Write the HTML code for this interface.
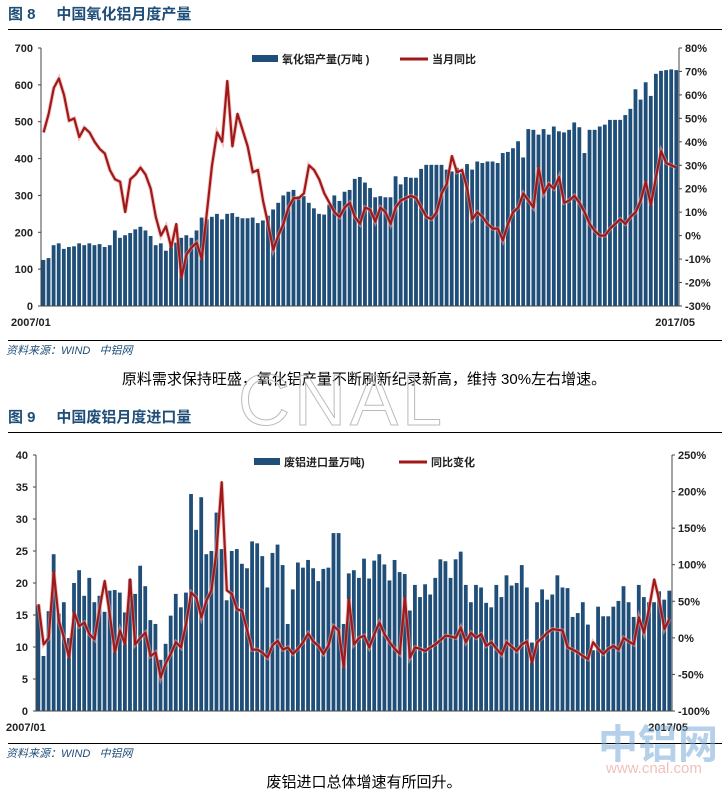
<!DOCTYPE html>
<html><head><meta charset="utf-8">
<style>
body{margin:0;background:#fff;width:728px;height:794px;overflow:hidden;position:relative;font-family:"Liberation Sans","Noto Sans CJK SC",sans-serif}
.t{position:absolute;left:8px;font-size:15px;font-weight:bold;color:#1f4e79}
.rule{position:absolute;left:8px;width:714px;height:1px;background:#000}
.src{position:absolute;left:6px;font-size:11px;font-style:italic;color:#1f4e79}
.cap{position:absolute;width:728px;text-align:center;font-size:15px;color:#000}
svg{position:absolute;left:0}
</style></head><body>
<div class="t" style="top:3px">图 8&nbsp;&nbsp;&nbsp;&nbsp;&nbsp;中国氧化铝月度产量</div>
<div class="rule" style="top:29px"></div>
<svg id="c1" width="728" height="340" style="top:0"></svg>
<div class="rule" style="top:340px"></div>
<div class="src" style="top:342px">资料来源：WIND&nbsp;&nbsp;&nbsp;中铝网</div>
<div class="cap" style="top:368px">原料需求保持旺盛，氧化铝产量不断刷新纪录新高，维持 30%左右增速。</div>
<div style="position:absolute;left:238px;top:360px;font-size:72px;color:transparent;-webkit-text-stroke:1px #bbb;letter-spacing:4px">CNAL</div>
<div class="t" style="top:406px">图 9&nbsp;&nbsp;&nbsp;&nbsp;&nbsp;中国废铝月度进口量</div>
<div class="rule" style="top:432px"></div>
<svg id="c2" width="728" height="310" style="top:432px"></svg>
<div class="rule" style="top:743px"></div>
<div class="src" style="top:745px">资料来源：WIND&nbsp;&nbsp;&nbsp;中铝网</div>
<div class="cap" style="top:771px">废铝进口总体增速有所回升。</div>
<div style="position:absolute;left:598px;top:712px;font-size:40px;font-weight:bold;color:rgba(120,170,215,0.55)">中铝网</div>
<div style="position:absolute;left:606px;top:760px;font-size:15px;color:rgba(230,150,140,0.6)">www.cnal.com</div>
<script>
const bars1=[125,130,165,170,155,160,162,170,165,170,165,168,
160,165,205,185,192,198,208,215,205,190,165,170,
150,165,172,185,192,185,205,240,235,242,250,235,
250,252,242,238,238,240,225,232,245,262,280,300,
310,315,298,298,280,265,250,248,275,300,285,310,
315,345,350,335,320,295,298,295,295,352,330,350,
348,348,372,383,383,383,383,370,365,375,360,385,
370,392,388,392,392,388,415,418,428,447,403,480,
478,465,480,465,487,474,471,478,498,485,415,478,
478,487,492,505,505,505,518,535,588,560,607,570,
630,638,640,642,640];
const line1=[44,52,63,67,60,49,50,42,46,44,40,37,
35,28,24,23,10,24,26,29,26,20,8,0,
4,-5,5,-18,-8,-5,-3,-10,10,30,44,40,
66,38,52,45,38,27,28,15,5,-6,0,5,
12,16,16,18,30,28,24,18,14,10,8,12,
14,8,5,12,11,6,12,10,5,12,15,16,
17,16,12,8,7,10,18,22,34,27,28,20,
7,10,8,5,3,3,-2,5,10,12,18,15,
12,29,18,22,20,25,14,15,17,14,10,5,
2,0,0,3,5,7,5,8,10,15,23,13,
25,36,31,30,29];
const ticksL1=[0,100,200,300,400,500,600,700];
const ticksR1=[-30,-20,-10,0,10,20,30,40,50,60,70,80];
const bars2=[16.5,8.6,15.6,24.5,15.2,17,11.4,20,22,18,20.8,17,
18,15.5,18.8,18.9,18.5,15.4,20.6,18.3,22.7,19.5,14.2,13.6,
8,10.5,14.9,18.3,16.2,18.5,33.9,28.3,33.4,24.5,25,31,
25.3,17.3,25,25.3,23,22.3,26.5,26.2,24.2,19.3,24.7,26,
22.8,13.6,19,23.2,22.4,23.6,22.3,20.3,22.2,22.4,27.8,27.8,
13.6,21.5,22,20.8,23.8,20.7,23.5,24.5,22.9,20.4,23.6,21.7,
21.4,15.7,19.7,17.8,19.8,18.2,20.8,23.7,23.4,20.8,23.7,24.9,
19.7,17,19.7,19.3,16.9,16.2,19.7,17.8,21.2,19.6,20,22.8,
19.3,10.7,17,19,17.4,18.2,21.2,19.3,19.2,14.7,15.3,17,
13.5,9.5,16.3,14.8,14.8,16.3,17.2,19.5,17,14.7,19.7,17.8,
17,17,18.7,17.4,18.8];
const line2=[46,-9,0,90,23,0,-27,35,16,21,5,-2,
40,78,32,-20,10,-9,80,-9,0,7,-25,-20,
-54,-35,-22,-6,-13,19,62,55,28,51,65,120,
213,65,60,39,37,10,-16,-16,-20,-27,-10,-4,
-16,-13,-22,-15,-6,6,-5,-11,-22,-10,16,10,
-41,53,-9,0,3,-13,5,21,5,-6,-15,-22,
55,-27,-13,-15,-18,-13,-9,-3,3,2,0,14,
-6,7,0,5,-11,-6,-15,-23,-6,-12,-18,-9,
-5,-34,-6,0,7,12,11,10,-13,-16,-20,-25,
-29,-6,-15,-22,-15,-11,-16,0,-5,-9,28,7,
40,80,51,12,26];
const ticksL2=[0,5,10,15,20,25,30,35,40];
const ticksR2=[-100,-50,0,50,100,150,200,250];
const NS='http://www.w3.org/2000/svg';
function mk(svg,tag,at,txt){const e=document.createElementNS(NS,tag);for(const k in at)e.setAttribute(k,at[k]);if(txt!==undefined)e.textContent=txt;svg.appendChild(e);return e;}
function draw(svg,o,bars,line,tl,tr,leg1,leg2){
  const n=bars.length,bw=(o.x1-o.x0)/n;
  const yL=v=>o.y1-(v-tl[0])/(tl[tl.length-1]-tl[0])*(o.y1-o.y0);
  const yR=v=>o.y1-(v-tr[0])/(tr[tr.length-1]-tr[0])*(o.y1-o.y0);
  const x=i=>o.x0+bw*(i+0.5);
  bars.forEach((v,i)=>{const r=mk(svg,'rect',{x:o.x0+bw*i+0.5,y:yL(v),width:bw-1.3,height:o.y1-yL(v),fill:'#1f4e79'});
    
    });
  mk(svg,'line',{x1:o.x0,y1:o.y0,x2:o.x0,y2:o.y1,stroke:'#444'});
  mk(svg,'line',{x1:o.x1,y1:o.y0,x2:o.x1,y2:o.y1,stroke:'#444'});
  mk(svg,'line',{x1:o.x0,y1:o.y1,x2:o.x1,y2:o.y1,stroke:'#444'});
  tl.forEach(v=>{mk(svg,'text',{x:o.x0-8,y:yL(v)+4,'text-anchor':'end','font-size':11,'font-weight':'bold',fill:'#222'},v);
    mk(svg,'line',{x1:o.x0-3,x2:o.x0,y1:yL(v),y2:yL(v),stroke:'#444'});});
  tr.forEach(v=>{mk(svg,'text',{x:o.x1+6,y:yR(v)+4,'font-size':11,'font-weight':'bold',fill:'#222'},v+'%');
    mk(svg,'line',{x1:o.x1,x2:o.x1+3,y1:yR(v),y2:yR(v),stroke:'#444'});});
  let d=line.map((v,i)=>(i?'L':'M')+x(i).toFixed(1)+','+yR(v).toFixed(1)).join('');
  mk(svg,'path',{d:d,fill:'none',stroke:'#e8a0a0','stroke-width':4,opacity:0.6});
  const p=mk(svg,'path',{d:d,fill:'none',stroke:'#a01818','stroke-width':2.2,'stroke-linejoin':'round'});
  
  
  mk(svg,'text',{x:o.x0-30,y:o.y1+20,'font-size':11,'font-weight':'bold',fill:'#222'},'2007/01');
  mk(svg,'text',{x:o.x1+16,y:o.y1+20,'text-anchor':'end','font-size':11,'font-weight':'bold',fill:'#222'},'2017/05');
  mk(svg,'rect',{x:o.lx,y:o.ly-4,width:26,height:7,fill:'#1f4e79'});
  mk(svg,'text',{x:o.lx+30,y:o.ly+4,'font-size':11,'font-weight':'bold',fill:'#222'},leg1);
  mk(svg,'line',{x1:o.lx+o.l2,x2:o.lx+o.l2+28,y1:o.ly,y2:o.ly,stroke:'#a01818','stroke-width':3});
  mk(svg,'text',{x:o.lx+o.l2+32,y:o.ly+4,'font-size':11,'font-weight':'bold',fill:'#222'},leg2);
}
draw(document.getElementById('c1'),{x0:41,x1:679,y0:48,y1:306,lx:252,ly:59,l2:148},bars1,line1,ticksL1,ticksR1,'氧化铝产量(万吨 )','当月同比');
draw(document.getElementById('c2'),{x0:36,x1:672,y0:23,y1:279,lx:254,ly:30,l2:145},bars2,line2,ticksL2,ticksR2,'废铝进口量万吨)','同比变化');
</script>
</body></html>
